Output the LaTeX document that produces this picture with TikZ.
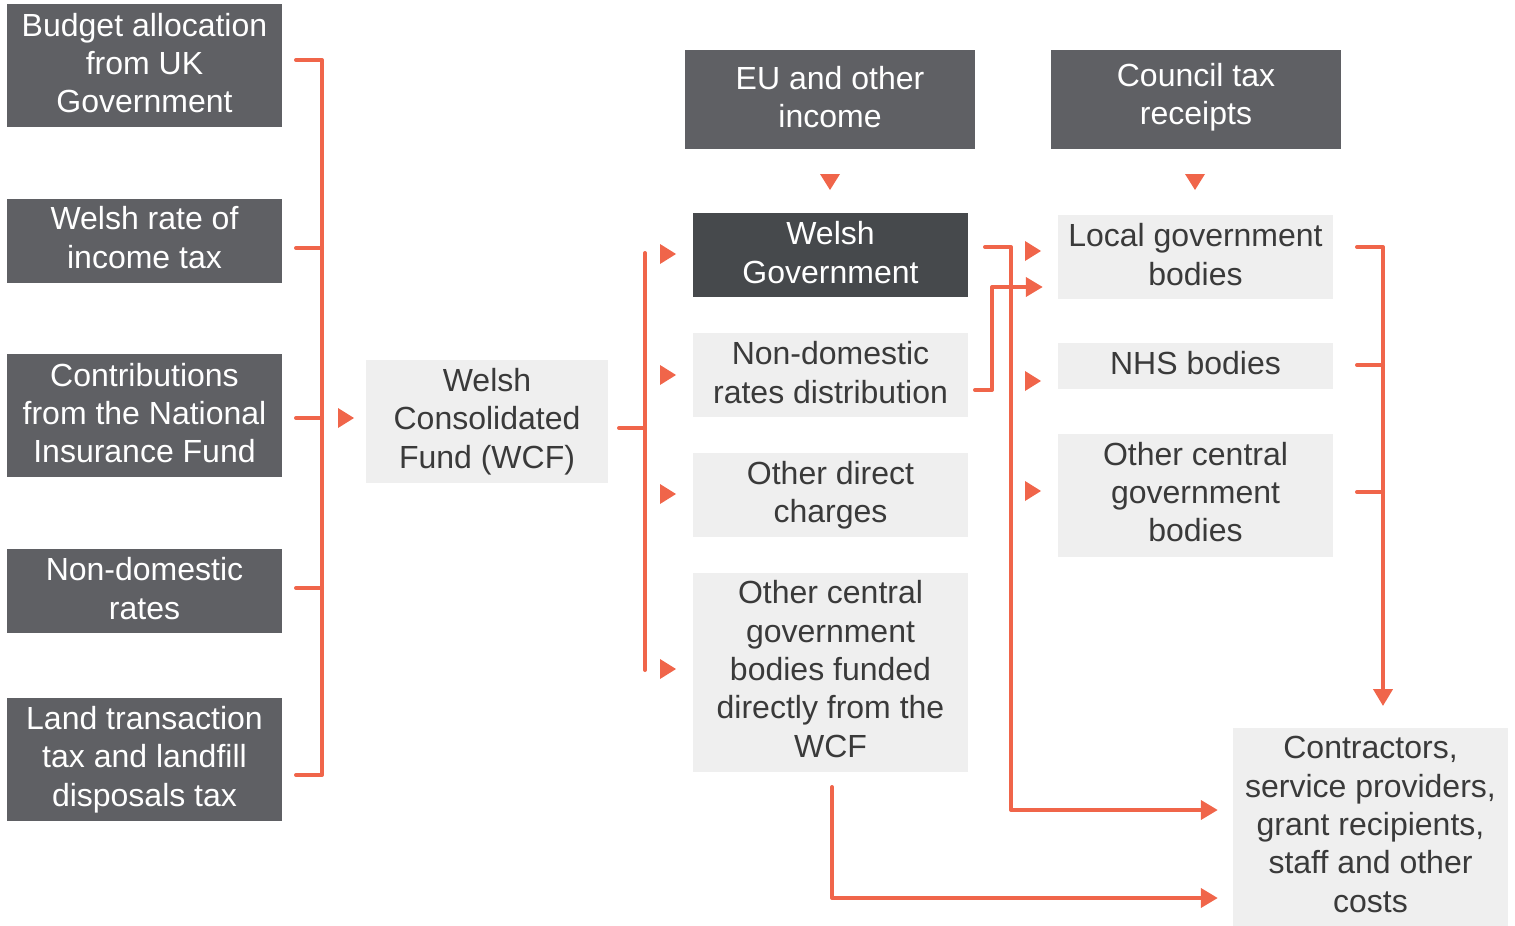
\documentclass[tikz,border=0pt]{standalone}
\usepackage{fontspec}
\setmainfont{Liberation Sans}
\usetikzlibrary{arrows.meta}
\definecolor{dgrey}{HTML}{5F6064}
\definecolor{wggrey}{HTML}{46494C}
\definecolor{lgrey}{HTML}{EFEFEF}
\definecolor{txt}{HTML}{3A3A3A}
\definecolor{accent}{HTML}{F0654A}
\begin{document}
\begin{tikzpicture}[x=1pt,y=-1pt,
  base/.style={inner sep=0pt},
  tx/.style={align=center,inner sep=0pt,yshift=2.5pt,font=\fontsize{32}{38.3}\selectfont},
  dbox/.style={base,fill=dgrey},
  wgbox/.style={base,fill=wggrey},
  lbox/.style={base,fill=lgrey},
  wt/.style={tx,text=white},
  dt/.style={tx,text=txt},
  conn/.style={draw=accent,line width=4pt,line cap=round,line join=round},
  tip/.style={-{Triangle[width=19pt,length=17pt]}},
  rtri/.pic={\fill[accent] (-8,-10) -- (8,0) -- (-8,10) -- cycle;},
  dtri/.pic={\fill[accent] (-10,-8) -- (10,-8) -- (0,8) -- cycle;}]
\useasboundingbox (0,0) rectangle (1515,926);
% left column
\node[dbox,minimum width=275pt,minimum height=123pt,label={[wt]center:{Budget allocation\\from UK\\Government}}] (b1) at (144.5,65.5) {};
\node[dbox,minimum width=275pt,minimum height=84pt,label={[wt,yshift=1pt]center:{Welsh rate of\\income tax}}] (b2) at (144.5,241) {};
\node[dbox,minimum width=275pt,minimum height=123pt,label={[wt]center:{Contributions\\from the National\\Insurance Fund}}] (b3) at (144.5,415.5) {};
\node[dbox,minimum width=275pt,minimum height=84pt,label={[wt]center:{Non-domestic\\rates}}] (b4) at (144.5,591) {};
\node[dbox,minimum width=275pt,minimum height=123pt,label={[wt,yshift=-2.5pt]center:{Land transaction\\tax and landfill\\disposals tax}}] (b5) at (144.5,759.5) {};
% WCF
\node[lbox,minimum width=242pt,minimum height=123pt,label={[dt,yshift=-2.5pt]center:{Welsh\\Consolidated\\Fund (WCF)}}] (wcf) at (487,421.5) {};
% top
\node[dbox,minimum width=290pt,minimum height=99pt,label={[wt]center:{EU and other\\income}}] (eu) at (830,99.5) {};
\node[dbox,minimum width=290pt,minimum height=99pt,label={[wt]center:{Council tax\\receipts}}] (ct) at (1196,99.5) {};
% middle column
\node[wgbox,minimum width=275pt,minimum height=84pt,label={[wt]center:{Welsh\\Government}}] (wg) at (830.5,255) {};
\node[lbox,minimum width=275pt,minimum height=84pt,label={[dt]center:{Non-domestic\\rates distribution}}] (ndr) at (830.5,375) {};
\node[lbox,minimum width=275pt,minimum height=84pt,label={[dt,yshift=-2.5pt]center:{Other direct\\charges}}] (odc) at (830.5,495) {};
\node[lbox,minimum width=275pt,minimum height=199pt,label={[dt,yshift=1pt]center:{Other central\\government\\bodies funded\\directly from the\\WCF}}] (ocf) at (830.5,672.5) {};
% right column
\node[lbox,minimum width=275pt,minimum height=84pt,label={[dt]center:{Local government\\bodies}}] (lg) at (1195.5,257) {};
\node[lbox,minimum width=275pt,minimum height=46pt,label={[dt]center:{NHS bodies}}] (nhs) at (1195.5,366) {};
\node[lbox,minimum width=275pt,minimum height=123pt,label={[dt,yshift=1pt]center:{Other central\\government\\bodies}}] (ocg) at (1195.5,495.5) {};
\node[lbox,minimum width=275pt,minimum height=198pt,label={[dt]center:{Contractors,\\service providers,\\grant recipients,\\staff and other\\costs}}] (con) at (1370.5,827) {};
% left bracket
\coordinate (l1) at (296,60); \coordinate (l2) at (296,248); \coordinate (l3) at (296,418);
\coordinate (l4) at (296,588); \coordinate (l5) at (296,775);
\coordinate (s1) at (322,60); \coordinate (s2) at (322,248); \coordinate (s3) at (322,418);
\coordinate (s4) at (322,588); \coordinate (s5) at (322,775);
\draw[conn] (l1) -- (s1) -- (s5) -- (l5);
\draw[conn] (l2) -- (s2);
\draw[conn] (l3) -- (s3);
\draw[conn] (l4) -- (s4);
\pic at (346,418) {rtri};
% WCF bracket
\coordinate (w0) at (619,428); \coordinate (w1) at (645,428);
\coordinate (wtop) at (645,253); \coordinate (wbot) at (645,670);
\draw[conn] (w0) -- (w1);
\draw[conn] (wtop) -- (wbot);
\pic at (668,254) {rtri};
\pic at (668,375) {rtri};
\pic at (668,494) {rtri};
\pic at (668,669) {rtri};
% top arrows
\pic at (830,182) {dtri};
\pic at (1195,182) {dtri};
% right column arrows
\pic at (1033,251) {rtri};
\pic at (1033,381) {rtri};
\pic at (1033,491) {rtri};
% WG to contractors
\coordinate (wgout) at (985,247); \coordinate (wgc) at (1011,810);
\draw[conn,tip] (wgout) -| (wgc) -- ([xshift=-15pt,yshift=17pt]con.west);
% NDR to local government
\coordinate (ndrout) at (975,390); \coordinate (ndrc) at (992,287);
\draw[conn,tip] (ndrout) -| (ndrc) -- ([xshift=-15pt,yshift=-30pt]lg.west);
% other central funded to contractors
\coordinate (ocfout) at (832,787); \coordinate (ocfc) at (832,898);
\draw[conn,tip] (ocfout) -- (ocfc) -- ([xshift=-15pt,yshift=-71pt]con.west);
% right bracket
\coordinate (r1) at (1357,247); \coordinate (r2) at (1357,365); \coordinate (r3) at (1357,492);
\coordinate (q1) at (1383,247); \coordinate (q2) at (1383,365); \coordinate (q3) at (1383,492);
\coordinate (rend) at (1383,706);
\draw[conn,tip] (r1) -- (q1) -- (rend);
\draw[conn] (r2) -- (q2);
\draw[conn] (r3) -- (q3);
\end{tikzpicture}
\end{document}
